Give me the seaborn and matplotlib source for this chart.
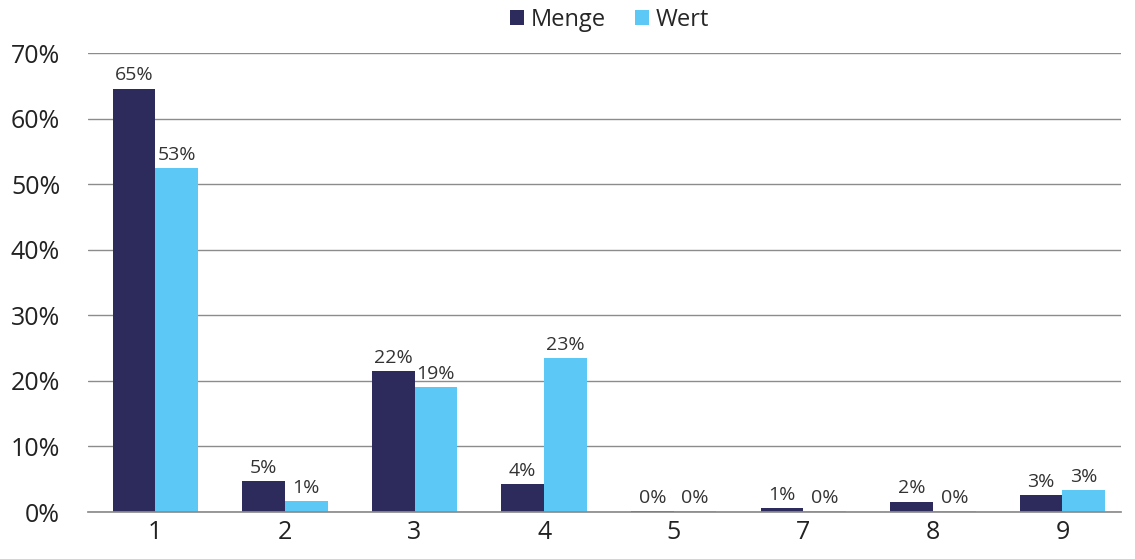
import pandas as pd
import seaborn as sns
import matplotlib.pyplot as plt
from matplotlib.ticker import PercentFormatter

categories = ["1", "2", "3", "4", "5", "7", "8", "9"]
menge = [64.6, 4.7, 21.5, 4.3, 0.2, 0.6, 1.6, 2.6]
wert = [52.4, 1.7, 19.0, 23.5, 0.1, 0.1, 0.1, 3.3]
menge_labels = ["65%", "5%", "22%", "4%", "0%", "1%", "2%", "3%"]
wert_labels = ["53%", "1%", "19%", "23%", "0%", "0%", "0%", "3%"]

df = pd.DataFrame({
    "kategorie": categories * 2,
    "anteil": menge + wert,
    "reihe": ["Menge"] * len(categories) + ["Wert"] * len(categories),
})

sns.set_theme(style="white")
plt.rcParams['font.family'] = ['Open Sans', 'DejaVu Sans']

fig = plt.figure(figsize=(11.35, 5.59), dpi=100)
ax = fig.add_axes([0.0775, 0.084, 0.91, 0.821])

sns.barplot(data=df, x="kategorie", y="anteil", hue="reihe", order=categories,
            palette=["#2d2a5c", "#5bc8f5"], width=0.66, saturation=1,
            edgecolor="none", ax=ax)

for container, labels in zip(ax.containers, [menge_labels, wert_labels]):
    ax.bar_label(container, labels=labels, padding=3, fontsize=14, color="#333333")

ax.set_ylim(0, 70)
ax.set_yticks(range(0, 71, 10))
ax.yaxis.set_major_formatter(PercentFormatter(decimals=0))
ax.set_xlim(-0.52, 7.45)
ax.grid(axis="y", color="#8c8c8c", linewidth=1)
ax.set_axisbelow(True)
for side in ["left", "right", "top"]:
    ax.spines[side].set_visible(False)
ax.spines["bottom"].set_color("#8c8c8c")
ax.tick_params(axis="both", labelsize=18, colors="#222222", length=0)
ax.tick_params(axis="y", pad=20)
ax.tick_params(axis="x", pad=6)
ax.set_xlabel("")
ax.set_ylabel("")

ax.legend(loc="lower center", bbox_to_anchor=(0.505, 1.0), ncol=2, frameon=False,
          fontsize=17, handlelength=0.6, handleheight=0.6, handletextpad=0.3,
          columnspacing=1.2)

fig.savefig("out.png", dpi=100)
